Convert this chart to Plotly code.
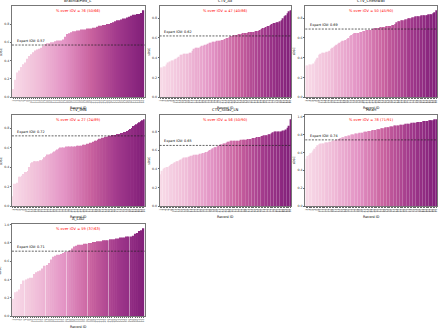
import plotly.graph_objects as go
from plotly.colors import sample_colorscale

# ---------------- data ----------------
titles = ["BrachialPlex_L", "CTV_Ax", "CTV_Chestwall", "CTV_IMN", "CTV_Sclav_LN", "Heart", "A_LAD"]
expert_iov = [0.57, 0.62, 0.69, 0.72, 0.65, 0.74, 0.71]

brachialplex_l = [0.09, 0.19, 0.27, 0.29, 0.33, 0.36, 0.38, 0.42, 0.45, 0.47, 0.49, 0.51, 0.52, 0.53, 0.54, 0.56,
                  0.58, 0.59, 0.59, 0.60, 0.60, 0.61, 0.62, 0.62, 0.62, 0.63, 0.66, 0.69, 0.70, 0.71, 0.72,
                  0.72, 0.73, 0.73, 0.74, 0.74, 0.74, 0.75, 0.75, 0.75, 0.76, 0.76, 0.77, 0.78, 0.78, 0.79,
                  0.79, 0.80, 0.80, 0.81, 0.82, 0.83, 0.84, 0.84, 0.85, 0.86, 0.86, 0.87, 0.88, 0.89, 0.90,
                  0.90, 0.91, 0.91, 0.92, 0.95]
ctv_ax = [0.30, 0.30, 0.31, 0.31, 0.33, 0.35, 0.36, 0.37, 0.37, 0.38, 0.39, 0.40, 0.41, 0.43, 0.43, 0.44, 0.44,
          0.44, 0.44, 0.45, 0.45, 0.47, 0.49, 0.50, 0.50, 0.50, 0.51, 0.52, 0.52, 0.53, 0.53, 0.54, 0.55, 0.55,
          0.56, 0.56, 0.56, 0.57, 0.57, 0.57, 0.58, 0.58, 0.59, 0.60, 0.60, 0.61,
          0.62, 0.62, 0.63, 0.63, 0.63, 0.64, 0.64, 0.64, 0.65, 0.65, 0.65, 0.65, 0.66, 0.66, 0.66, 0.66, 0.67,
          0.67, 0.67, 0.68, 0.69, 0.70, 0.70, 0.71, 0.72, 0.72, 0.73, 0.74, 0.75, 0.75, 0.76, 0.76, 0.77, 0.78,
          0.80, 0.82, 0.83, 0.85, 0.87, 0.88]
ctv_chestwall = [0.32, 0.32, 0.33, 0.33, 0.33, 0.34, 0.36, 0.38, 0.40, 0.43, 0.44, 0.45, 0.45, 0.45, 0.46, 0.46,
                 0.47, 0.49, 0.50, 0.51, 0.52, 0.53, 0.54, 0.55, 0.56, 0.57, 0.57, 0.58, 0.59, 0.60, 0.62, 0.63,
                 0.64, 0.65, 0.65, 0.65, 0.65, 0.66, 0.66, 0.67, 0.67, 0.68, 0.68, 0.68, 0.68,
                 0.69, 0.69, 0.70, 0.70, 0.70, 0.70, 0.71, 0.71, 0.71, 0.71, 0.72, 0.72, 0.72, 0.72, 0.73, 0.73,
                 0.74, 0.76, 0.77, 0.77, 0.78, 0.78, 0.78, 0.79, 0.79, 0.80, 0.80, 0.80, 0.81, 0.81, 0.82, 0.82,
                 0.82, 0.82, 0.83, 0.83, 0.83, 0.83, 0.83, 0.84, 0.84, 0.84, 0.85, 0.86, 0.88]
ctv_imn = [0.10, 0.23, 0.23, 0.24, 0.30, 0.30, 0.31, 0.33, 0.35, 0.35, 0.36, 0.40, 0.44, 0.45, 0.46, 0.46, 0.46,
           0.46, 0.47, 0.47, 0.48, 0.50, 0.51, 0.53, 0.53, 0.53, 0.54, 0.55, 0.56, 0.57, 0.58, 0.59, 0.60, 0.60,
           0.60, 0.60, 0.61, 0.61, 0.61, 0.61, 0.61, 0.61, 0.61, 0.62, 0.62, 0.62, 0.62, 0.63, 0.63, 0.63, 0.64,
           0.64, 0.65, 0.65, 0.66, 0.67, 0.67, 0.68, 0.69, 0.69, 0.70, 0.70, 0.71, 0.71, 0.71,
           0.72, 0.72, 0.73, 0.73, 0.73, 0.74, 0.74, 0.74, 0.75, 0.75, 0.76, 0.76, 0.77, 0.78, 0.79, 0.80, 0.82,
           0.83, 0.84, 0.85, 0.86, 0.87, 0.88, 0.89]
ctv_sclav_ln = [0.34, 0.38, 0.40, 0.41, 0.42, 0.42, 0.43, 0.44, 0.45, 0.46, 0.47, 0.48, 0.48, 0.49, 0.50, 0.51,
                0.52, 0.52, 0.52, 0.53, 0.53, 0.54, 0.54, 0.55, 0.55, 0.55, 0.55, 0.56, 0.56, 0.57, 0.57, 0.58,
                0.58, 0.59, 0.60, 0.61, 0.62, 0.63, 0.63, 0.64,
                0.65, 0.66, 0.66, 0.67, 0.67, 0.68, 0.69, 0.69, 0.70, 0.70, 0.70, 0.70, 0.70, 0.70, 0.70, 0.71,
                0.71, 0.71, 0.71, 0.71, 0.72, 0.72, 0.72, 0.73, 0.73, 0.73, 0.74, 0.74, 0.74, 0.75, 0.75, 0.76,
                0.76, 0.76, 0.77, 0.77, 0.78, 0.79, 0.80, 0.80, 0.80, 0.80, 0.80, 0.80, 0.81, 0.81, 0.82, 0.84,
                0.86, 0.93]
heart = [0.53, 0.56, 0.57, 0.59, 0.60, 0.62, 0.64, 0.66, 0.68, 0.69, 0.70, 0.70, 0.70, 0.71, 0.71, 0.71, 0.72,
         0.72, 0.73, 0.73,
         0.74, 0.74, 0.75, 0.75, 0.76, 0.77, 0.77, 0.78, 0.78, 0.79, 0.79, 0.80, 0.80, 0.80, 0.81, 0.81, 0.81,
         0.82, 0.82, 0.82, 0.83, 0.83, 0.83, 0.84, 0.84, 0.84, 0.85, 0.85, 0.85, 0.86, 0.86, 0.86, 0.87, 0.87,
         0.87, 0.88, 0.88, 0.88, 0.89, 0.89, 0.89, 0.90, 0.90, 0.90, 0.90, 0.91, 0.91, 0.91, 0.91, 0.92, 0.92,
         0.92, 0.92, 0.93, 0.93, 0.93, 0.93, 0.94, 0.94, 0.94, 0.94, 0.95, 0.95, 0.95, 0.95, 0.96, 0.96, 0.96,
         0.96, 0.97, 0.97]
a_lad = [0.19, 0.26, 0.27, 0.29, 0.35, 0.39, 0.40, 0.41, 0.42, 0.42, 0.46, 0.48, 0.49, 0.50, 0.52, 0.55, 0.56,
         0.58, 0.62, 0.65, 0.66, 0.67, 0.67, 0.68, 0.69, 0.70,
         0.71, 0.72, 0.74, 0.76, 0.77, 0.78, 0.78, 0.78, 0.79, 0.79, 0.80, 0.80, 0.81, 0.81, 0.82, 0.82, 0.82,
         0.83, 0.83, 0.83, 0.84, 0.84, 0.84, 0.85, 0.85, 0.86, 0.86, 0.86, 0.87, 0.87, 0.87, 0.88, 0.90, 0.91,
         0.93, 0.94, 0.96]

series = [brachialplex_l, ctv_ax, ctv_chestwall, ctv_imn, ctv_sclav_ln, heart, a_lad]

# ---------------- layout ----------------
W, H = 440, 328
# axes boxes in pixels (left, right, top, bottom)
col_x = [(12, 145), (160, 292), (306, 438)]
row_y = [(5, 97), (115, 207), (225, 318)]
positions = [(0, 0), (0, 1), (0, 2), (1, 0), (1, 1), (1, 2), (2, 0)]

scale = ["#f8dbe8", "#f0bdd8", "#e394c5", "#c9629f", "#a23a8c", "#82207a"]
FONT = "DejaVu Sans"

fig = go.Figure()
annotations = []
shapes = []

for k, (title, vals, iov) in enumerate(zip(titles, series, expert_iov)):
    r, c = positions[k]
    n = len(vals)
    xs = list(range(n))
    labels = [str(i + 1) for i in xs]
    colors = sample_colorscale(scale, [i / max(n - 1, 1) for i in xs])
    ax = "" if k == 0 else str(k + 1)
    xa, ya = "x" + ax, "y" + ax
    fig.add_trace(go.Bar(x=xs, y=vals, marker=dict(color=colors, line=dict(width=0)),
                         xaxis=xa, yaxis=ya, showlegend=False))
    x0, x1 = col_x[c]
    t, b = row_y[r]
    dom_x = [x0 / W, x1 / W]
    dom_y = [1 - b / H, 1 - t / H]
    ymax = max(vals) * 1.05
    lay_x = "xaxis" + ax
    lay_y = "yaxis" + ax
    fig.layout[lay_x] = dict(domain=dom_x, anchor=ya, range=[-0.6, n - 0.4],
                             tickmode="array", tickvals=xs, ticktext=labels, tickangle=-90,
                             tickfont=dict(size=2.6, color="#555", family=FONT),
                             ticks="outside", ticklen=1, tickwidth=0.3, tickcolor="#666",
                             showline=True, linecolor="#777", linewidth=0.6, mirror=True,
                             showgrid=False, zeroline=False)
    fig.layout[lay_y] = dict(domain=dom_y, anchor=xa, range=[0, ymax],
                             tickvals=[0, 0.2, 0.4, 0.6, 0.8, 1.0],
                             ticktext=["0.0", "0.2", "0.4", "0.6", "0.8", "1.0"],
                             tickfont=dict(size=3.2, color="#333", family=FONT),
                             ticks="outside", ticklen=1.2, tickwidth=0.4, tickcolor="#666",
                             showline=True, linecolor="#777", linewidth=0.6, mirror=True,
                             showgrid=False, zeroline=False)
    # expert IOV dashed line
    shapes.append(dict(type="line", xref=xa + " domain", yref=ya, x0=0, x1=1, y0=iov, y1=iov,
                       line=dict(color="#222", width=0.7, dash="2px,1.3px")))
    annotations.append(dict(xref=xa + " domain", yref=ya, x=0.02, y=iov, xanchor="left", yanchor="bottom",
                            text="Expert IOV: %.2f" % iov, showarrow=False,
                            font=dict(size=3.4, color="black", family=FONT)))
    over = sum(1 for v in vals if v >= iov)
    pct = round(100 * over / n)
    annotations.append(dict(xref=xa + " domain", yref=ya + " domain", x=0.5, y=0.985, xanchor="center",
                            yanchor="top", text="%% over IOV = %d (%d/%d)" % (pct, over, n),
                            showarrow=False, font=dict(size=3.6, color="red", family=FONT)))
    # title
    annotations.append(dict(xref=xa + " domain", yref=ya + " domain", x=0.5, y=1.0, xanchor="center",
                            yanchor="bottom", yshift=0.5, text=title, showarrow=False,
                            font=dict(size=3.8, color="black", family=FONT)))
    # x label
    annotations.append(dict(xref=xa + " domain", yref=ya + " domain", x=0.5, y=0, xanchor="center",
                            yanchor="top", yshift=-6.5, text="Record ID", showarrow=False,
                            font=dict(size=3.4, color="black", family=FONT)))
    # y label
    annotations.append(dict(xref=xa + " domain", yref=ya + " domain", x=0, y=0.5, xanchor="right",
                            yanchor="middle", xshift=-7.5, text="sDSC", textangle=-90, showarrow=False,
                            font=dict(size=3.0, color="black", family=FONT)))

fig.update_layout(width=W, height=H, margin=dict(l=0, r=0, t=0, b=0),
                  paper_bgcolor="white", plot_bgcolor="white",
                  bargap=0.2, annotations=annotations, shapes=shapes,
                  font=dict(family=FONT))

fig.write_html("out.html", config={"displayModeBar": False},
               post_script="document.body.style.margin='0';document.body.style.padding='0';")
